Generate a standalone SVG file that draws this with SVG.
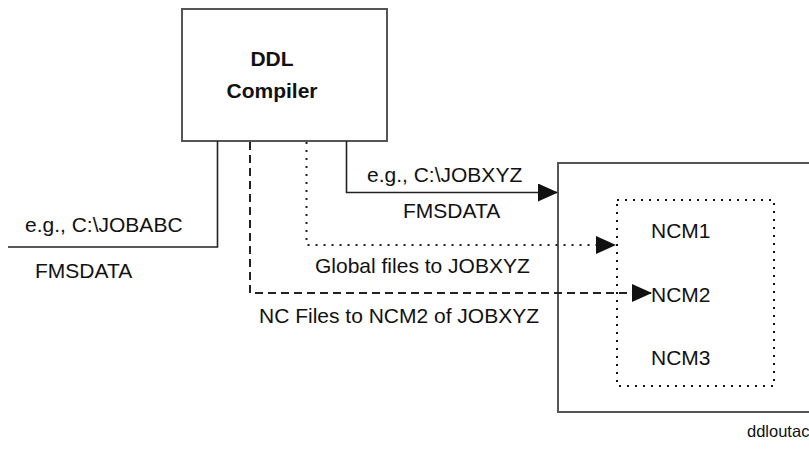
<svg xmlns="http://www.w3.org/2000/svg" width="809" height="451" viewBox="0 0 809 451">
  <defs>
    <style>
      text { font-family: "Liberation Sans", Arial, sans-serif; font-size: 21px; fill: #111; }
      .bold { font-weight: bold; }
      .small { font-size: 16.5px; }
      .box { fill: #fff; stroke: #555; stroke-width: 2; }
      .dotbox { fill: none; stroke: #111; stroke-width: 2; stroke-dasharray: 2 6; }
      .wire { fill: none; stroke: #222; stroke-width: 1.6; }
      .dash { stroke-dasharray: 8 5; stroke-width: 2; }
      .dot { stroke-dasharray: 2 6; stroke-width: 2; }
    </style>
    <marker id="arrow" markerWidth="20" markerHeight="18" refX="19" refY="9" orient="auto" markerUnits="userSpaceOnUse">
      <path d="M0,0 L20,9 L0,18 Z" fill="#111"/>
    </marker>
  </defs>

  <rect width="809" height="451" fill="#fff"/>

  <!-- compiler -->
  <g id="ddl-compiler">
    <rect class="box" x="182" y="9" width="205" height="132"/>
    <text class="bold" x="272" y="66" text-anchor="middle">DDL</text>
    <text class="bold" x="272" y="98" text-anchor="middle">Compiler</text>
  </g>

  <!-- target job -->
  <g id="jobxyz">
    <rect class="box" x="558" y="163" width="260" height="249"/>
  </g>

  <g id="ncm-group">
    <rect class="dotbox" x="617" y="200" width="157" height="186"/>
    <text x="651" y="238">NCM1</text>
    <text x="651" y="302">NCM2</text>
    <text x="651" y="365">NCM3</text>
  </g>

  <!-- connectors -->
  <g id="connectors">
    <path class="wire" d="M217.5,141 V247 H8"/>
    <path class="wire" d="M346.5,141 V192.5 H557" marker-end="url(#arrow)"/>
    <path class="wire dot" d="M306.5,142 V245 H615" marker-end="url(#arrow)"/>
    <path class="wire dash" d="M250,142 V293 H651" marker-end="url(#arrow)"/>
  </g>

  <!-- connector labels -->
  <g id="labels">
    <text x="25" y="232">e.g., C:\JOBABC</text>
    <text x="35" y="278">FMSDATA</text>
    <text x="367" y="182">e.g., C:\JOBXYZ</text>
    <text x="403" y="218">FMSDATA</text>
    <text x="315" y="273">Global files to JOBXYZ</text>
    <text x="259" y="323">NC Files to NCM2 of JOBXYZ</text>
  </g>

  <text class="small" x="747" y="437">ddloutac</text>
</svg>
